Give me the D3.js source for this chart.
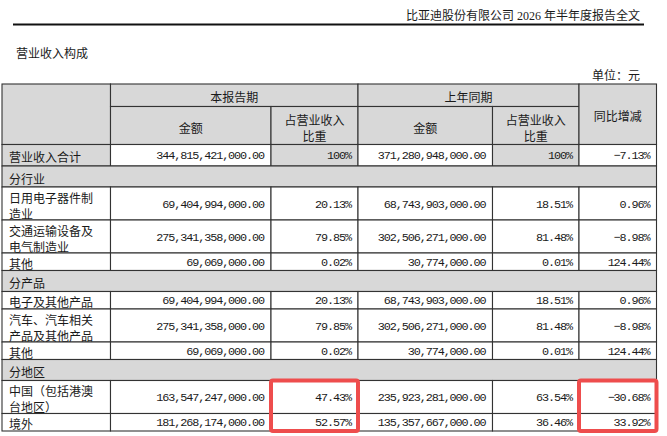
<!DOCTYPE html>
<html lang="zh">
<head>
<meta charset="UTF-8">
<title>营业收入构成</title>
<script src="https://d3js.org/d3.v7.min.js"></script>
<style>
  body { margin: 0; background: #fff; }
  text { font-family: "Noto Sans CJK SC", sans-serif; font-size: 12px; fill: #1a1a1a; }
  .num { font-family: "Liberation Mono", "Noto Sans CJK SC", monospace; font-size: 11.8px; letter-spacing: -1.1px; }
  .title { font-family: "Liberation Serif", "Noto Sans CJK SC", serif; }
</style>
</head>
<body>
<script>
// 表格数据
const reportTitle = "比亚迪股份有限公司 2026 年半年度报告全文";
const tableName = "营业收入构成";
const unitLabel = "单位：元";
const periodLabels = ["本报告期", "上年同期"];
const subHeaders = ["金额", "占营业收入比重"];
const yoyHeader = "同比增减";

const rowLabels = ["营业收入合计", "分行业", "日用电子器件制造业", "交通运输设备及电气制造业", "其他",
  "分产品", "电子及其他产品", "汽车、汽车相关产品及其他产品", "其他",
  "分地区", "中国（包括港澳台地区）", "境外"];
const sectionRows = ["分行业", "分产品", "分地区"];
const curAmount = [344815421000, null, 69404994000, 275341358000, 69069000, null, 69404994000, 275341358000, 69069000, null, 163547247000, 181268174000];
const curShare = [100, null, 20.13, 79.85, 0.02, null, 20.13, 79.85, 0.02, null, 47.43, 52.57];
const prevAmount = [371280948000, null, 68743903000, 302506271000, 30774000, null, 68743903000, 302506271000, 30774000, null, 235923281000, 135357667000];
const prevShare = [100, null, 18.51, 81.48, 0.01, null, 18.51, 81.48, 0.01, null, 63.54, 36.46];
const yoyChange = [-7.13, null, 0.96, -8.98, 124.44, null, 0.96, -8.98, 124.44, null, -30.68, 33.92];

// 红框标注
const markedRows = ["中国（包括港澳台地区）", "境外"];
const markedCols = ["curShare", "yoy"];

// 布局
const width = 667, height = 436;
const colKeys = ["label", "curAmount", "curShare", "prevAmount", "prevShare", "yoy"];
const colWidths = [108.5, 160.5, 87, 134.5, 86.5, 77.5];
const tableLeft = 2, tableTop = 84;
const headH1 = 22.5, headH2 = 38;
const grey = "#d8d8d8", lineColor = "#333";
const wrapLen = 7;

const colEdges = d3.cumsum([tableLeft, ...colWidths]);
const x0 = d3.scaleOrdinal().domain(colKeys).range(colEdges.slice(0, -1));
const x1 = d3.scaleOrdinal().domain(colKeys).range(colEdges.slice(1));

const fmtAmount = d3.format(",.2f");
const fmtPct = v => v === 100 ? "100%" : d3.format(".2f")(v) + "%";

const rows = rowLabels.map((label, i) => ({
  label,
  lines: label.match(new RegExp(".{1," + wrapLen + "}", "g")),
  section: sectionRows.includes(label),
  total: i === 0,
  vals: {
    curAmount: curAmount[i], curShare: curShare[i], prevAmount: prevAmount[i],
    prevShare: prevShare[i], yoy: yoyChange[i]
  }
}));
rows.forEach(r => {
  r.h = r.total ? 21.5 : r.section ? 21 : (r.lines.length > 1 ? 33 : 17.5);
});
const bodyTop = tableTop + headH1 + headH2;
const rowTops = [bodyTop, ...d3.cumsum(rows, r => r.h).map(v => bodyTop + v)];
const y0 = d3.scaleOrdinal().domain(d3.range(rows.length)).range(rowTops.slice(0, -1));

const svg = d3.select("body").append("svg")
  .attr("width", width)
  .attr("height", height);

// 页眉
svg.append("text").attr("class", "title")
  .attr("x", 640).attr("y", 16).attr("dominant-baseline", "central")
  .attr("text-anchor", "end").text(reportTitle);
svg.append("line")
  .attr("x1", 13).attr("x2", 644).attr("y1", 24.5).attr("y2", 24.5)
  .attr("stroke", "#111").attr("stroke-width", 2);
svg.append("text").attr("x", 16).attr("y", 52).attr("dominant-baseline", "central").text(tableName);
svg.append("text").attr("x", 640).attr("y", 74).attr("dominant-baseline", "central")
  .attr("text-anchor", "end").text(unitLabel);

const g = svg.append("g");

function cell(xa, xb, ya, yb, fill) {
  g.append("rect")
    .attr("x", xa).attr("y", ya)
    .attr("width", xb - xa).attr("height", yb - ya)
    .attr("fill", fill).attr("stroke", lineColor).attr("stroke-width", 1.1);
}
function label(tx, ty, lines, anchor, cls) {
  const t = g.append("text")
    .attr("text-anchor", anchor || "start")
    .attr("dominant-baseline", "central");
  if (cls) t.attr("class", cls);
  const step = 16;
  lines.forEach((s, k) => {
    t.append("tspan").attr("x", tx)
      .attr("y", ty + (k - (lines.length - 1) / 2) * step + 1)
      .text(s);
  });
}

// 表头
const hMid = tableTop + headH1;
cell(x0("label"), x1("label"), tableTop, bodyTop, grey);
periodLabels.forEach((p, i) => {
  const a = i === 0 ? "curAmount" : "prevAmount";
  const b = i === 0 ? "curShare" : "prevShare";
  cell(x0(a), x1(b), tableTop, hMid, grey);
  label((x0(a) + x1(b)) / 2, tableTop + headH1 / 2, [p], "middle");
  cell(x0(a), x1(a), hMid, bodyTop, grey);
  label((x0(a) + x1(a)) / 2, hMid + headH2 / 2, [subHeaders[0]], "middle");
  cell(x0(b), x1(b), hMid, bodyTop, grey);
  label((x0(b) + x1(b)) / 2, hMid + headH2 / 2, subHeaders[1].match(/.{1,5}/g), "middle");
});
cell(x0("yoy"), x1("yoy"), tableTop, bodyTop, grey);
label((x0("yoy") + x1("yoy")) / 2, (tableTop + bodyTop) / 2, [yoyHeader], "middle");

// 表体
rows.forEach((r, i) => {
  const ya = y0(i), yb = ya + r.h, mid = (ya + yb) / 2;
  if (r.section) {
    cell(x0("label"), x1("yoy"), ya, yb, grey);
    label(x0("label") + 7, mid, r.lines);
    return;
  }
  colKeys.forEach(k => {
    const fill = r.total && (k === "label" || k === "curShare" || k === "prevShare") ? grey : "#fff";
    cell(x0(k), x1(k), ya, yb, fill);
  });
  label(x0("label") + 7, mid, r.lines);
  colKeys.slice(1).forEach(k => {
    const v = r.vals[k];
    const s = (k === "curAmount" || k === "prevAmount") ? fmtAmount(v) : fmtPct(v);
    label(x1(k) - 7, mid, [s], "end", "num");
  });
});

// 红框
const mIdx = markedRows.map(m => rowLabels.lastIndexOf(m));
const mTop = y0(d3.min(mIdx));
const mBot = y0(d3.max(mIdx)) + rows[d3.max(mIdx)].h;
markedCols.forEach(k => {
  svg.append("rect")
    .attr("x", x0(k)).attr("y", mTop)
    .attr("width", x1(k) - x0(k)).attr("height", mBot - mTop)
    .attr("rx", 2)
    .attr("fill", "none").attr("stroke", "#ee4d4d").attr("stroke-width", 4);
});
</script>
</body>
</html>
